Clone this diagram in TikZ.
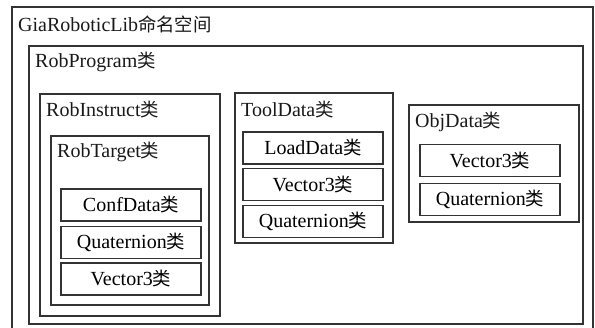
\documentclass[tikz,border=0pt]{standalone}
\usepackage{fontspec}
\setmainfont{Liberation Serif}
\newfontfamily\cjk{Noto Sans CJK SC}[Scale=0.92]
\usetikzlibrary{positioning}
\newcommand{\lei}{{\cjk 类}}
\tikzset{
  frame/.style={draw=black!80,line width=1.1pt},
  classbox/.style={frame,minimum width=140pt,minimum height=32pt,inner sep=0pt},
  caption/.style={anchor=west,inner sep=0pt,text=black!90}
}

\begin{document}
\begin{tikzpicture}[x=1pt,y=-1pt,font=\fontsize{20}{22}\selectfont]
\useasboundingbox (0,0) rectangle (595,327);
\clip (0,0) rectangle (595,327);
% namespace and program
\draw[frame] (12,7) rectangle (593,340);
\node[caption] (ns) at (18,24) {GiaRoboticLib{\cjk 命名空间}};
\draw[frame] (29,46) rectangle (583,324);
\node[caption] (prog) at (35,62) {RobProgram\lei};
% instruction
\draw[frame] (40,94) rectangle (220,316);
\node[caption] (instr) at (46,110) {RobInstruct\lei};
\draw[frame] (51,136) rectangle (209,305);
\node[caption] (target) at (57,152) {RobTarget\lei};
\node[classbox] (conf) at (131,205) {ConfData\lei};
\node[classbox] (tquat) at (131,242.5) {Quaternion\lei};
\node[classbox] (tvec) at (131,279) {Vector3\lei};
% tool
\draw[frame] (235,93) rectangle (393,243);
\node[caption] (tool) at (241,110) {ToolData\lei};
\node[classbox] (load) at (313,148) {LoadData\lei};
\node[classbox] (lvec) at (313,184.5) {Vector3\lei};
\node[classbox] (lquat) at (313,221.5) {Quaternion\lei};
% object
\draw[frame] (409,105) rectangle (579,222);
\node[caption] (obj) at (415,122) {ObjData\lei};
\node[classbox] (ovec) at (490,160.5) {Vector3\lei};
\node[classbox] (oquat) at (490,199.5) {Quaternion\lei};
\end{tikzpicture}
\end{document}
